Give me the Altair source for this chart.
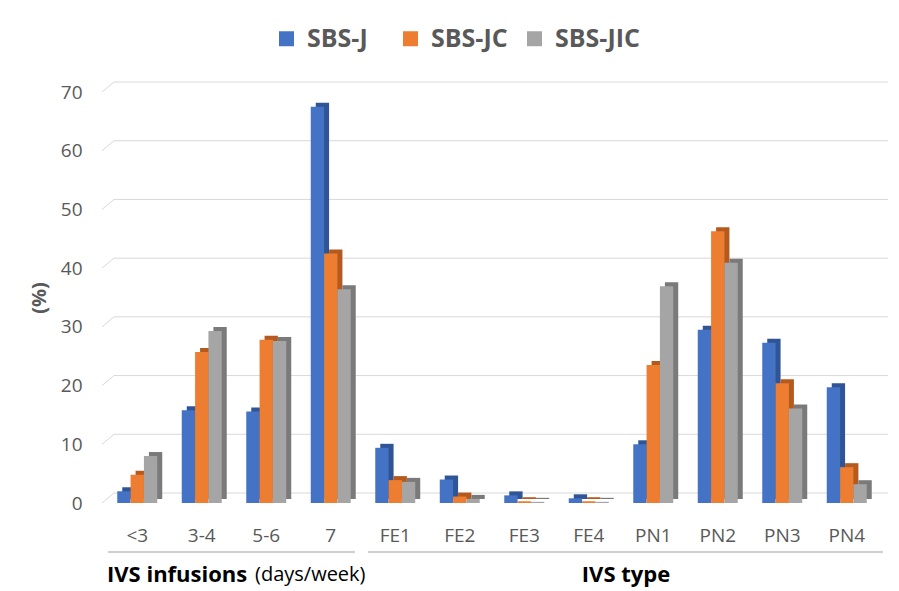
import altair as alt
import pandas as pd

categories = ["<3", "3-4", "5-6", "7", "FE1", "FE2", "FE3", "FE4", "PN1", "PN2", "PN3", "PN4"]
series = ["SBS-J", "SBS-JC", "SBS-JIC"]
sbs_j = [2.0, 15.8, 15.6, 67.5, 9.4, 4.0, 1.3, 0.8, 10.0, 29.5, 27.3, 19.7]
sbs_jc = [4.8, 25.7, 27.8, 42.5, 3.9, 1.1, 0.3, 0.3, 23.5, 46.3, 20.4, 6.1]
sbs_jic = [8.0, 29.3, 27.6, 36.4, 3.6, 0.7, 0.2, 0.2, 36.9, 40.9, 16.1, 3.2]
grid_values = [0, 10, 20, 30, 40, 50, 60, 70]
front_colors = ["#4472C4", "#ED7D31", "#A5A5A5"]
side_colors = ["#2F5597", "#B55A1E", "#7A7A7A"]

rows = []
for s, vals in zip(series, [sbs_j, sbs_jc, sbs_jic]):
    for c, v in zip(categories, vals):
        rows.append({"category": c, "series": s, "value": v})
df = pd.DataFrame(rows)
grid_df = pd.DataFrame({"v": grid_values})

W, H = 774, 411
FONT = "Open Sans"
TXT = "#595959"
GRID = "#D9D9D9"
DEPTH = 5

xscale = alt.Scale(domain=categories, paddingInner=0.38, paddingOuter=0.19)
yscale = alt.Scale(domain=[0, 70], nice=False)
x_axis = alt.Axis(title=None, labelAngle=0, labelFont=FONT, labelFontSize=19,
                  labelColor=TXT, ticks=False, domain=False, labelPadding=23, grid=False)
y_axis = alt.Axis(title="(%)", values=grid_values, labelFont=FONT, labelFontSize=19,
                  labelColor=TXT, ticks=False, domain=False, labelPadding=23, grid=False,
                  titleFont=FONT, titleFontSize=20, titleFontWeight="bold", titleColor=TXT,
                  titlePadding=11)

band = W / 12 * 0.62
x_enc = alt.X("category:N", scale=xscale, sort=categories, axis=x_axis)
xo_front = alt.XOffset("series:N", sort=series,
                       scale=alt.Scale(domain=series, paddingInner=0, paddingOuter=0))
xo_back = alt.XOffset("series:N", sort=series,
                      scale=alt.Scale(domain=series, paddingInner=0, paddingOuter=0,
                                      range=[DEPTH, DEPTH + band]))

grid = alt.Chart(grid_df).mark_rule(color=GRID, strokeWidth=1, yOffset=-10).encode(
    y=alt.Y("v:Q", scale=yscale, axis=y_axis),
    x=alt.value(9), x2=alt.value(783))
slant = alt.Chart(grid_df).mark_rule(color=GRID, strokeWidth=1, y2Offset=-10).encode(
    y=alt.Y("v:Q", scale=yscale, axis=y_axis), y2=alt.Y2("v:Q"),
    x=alt.value(-3), x2=alt.value(9))

back = alt.Chart(df).mark_bar(yOffset=-4, y2Offset=-4).encode(
    x=x_enc, xOffset=xo_back,
    y=alt.Y("value:Q", scale=yscale, axis=y_axis),
    color=alt.Color("series:N", scale=alt.Scale(domain=series, range=side_colors), legend=None))

front = alt.Chart(df).mark_bar().encode(
    x=x_enc, xOffset=xo_front,
    y=alt.Y("value:Q", scale=yscale, axis=y_axis),
    color=alt.Color("series:N", scale=alt.Scale(domain=series, range=front_colors),
                    legend=alt.Legend(title=None, orient="none", legendX=169, legendY=-66,
                                      direction="horizontal", columns=3, gridAlign="all",
                                      symbolType="square", symbolSize=225, symbolStrokeWidth=0,
                                      labelFont=FONT, labelFontSize=25, labelFontWeight="bold",
                                      labelColor=TXT, labelOffset=8, columnPadding=6)))

line_df = pd.DataFrame({"k": [0]})
line1 = alt.Chart(line_df).mark_rule(color="#BFBFBF", strokeWidth=1.5).encode(
    x=alt.value(3), x2=alt.value(250), y=alt.value(460))
line2 = alt.Chart(line_df).mark_rule(color="#BFBFBF", strokeWidth=1.5).encode(
    x=alt.value(263), x2=alt.value(778), y=alt.value(460))

t1 = alt.Chart(line_df).mark_text(text="IVS infusions", font=FONT, fontSize=22, fontWeight="bold",
                                  color="#000000", align="left", baseline="middle").encode(
    x=alt.value(2), y=alt.value(483))
t2 = alt.Chart(line_df).mark_text(text="(days/week)", font=FONT, fontSize=20,
                                  color="#000000", align="left", baseline="middle").encode(
    x=alt.value(150), y=alt.value(483))
t3 = alt.Chart(line_df).mark_text(text="IVS type", font=FONT, fontSize=22, fontWeight="bold",
                                  color="#000000", align="center", baseline="middle").encode(
    x=alt.value(521), y=alt.value(483))

chart = alt.layer(grid, slant, back, front, line1, line2, t1, t2, t3).resolve_scale(
    color="independent", xOffset="independent").properties(
    width=W, height=H,
    autosize=alt.AutoSizeParams(type="none"),
    padding={"left": 97, "top": 84, "right": 12, "bottom": 86},
).configure_view(stroke=None)

chart.save("out.html", embed_options={"renderer": "svg", "actions": False})
